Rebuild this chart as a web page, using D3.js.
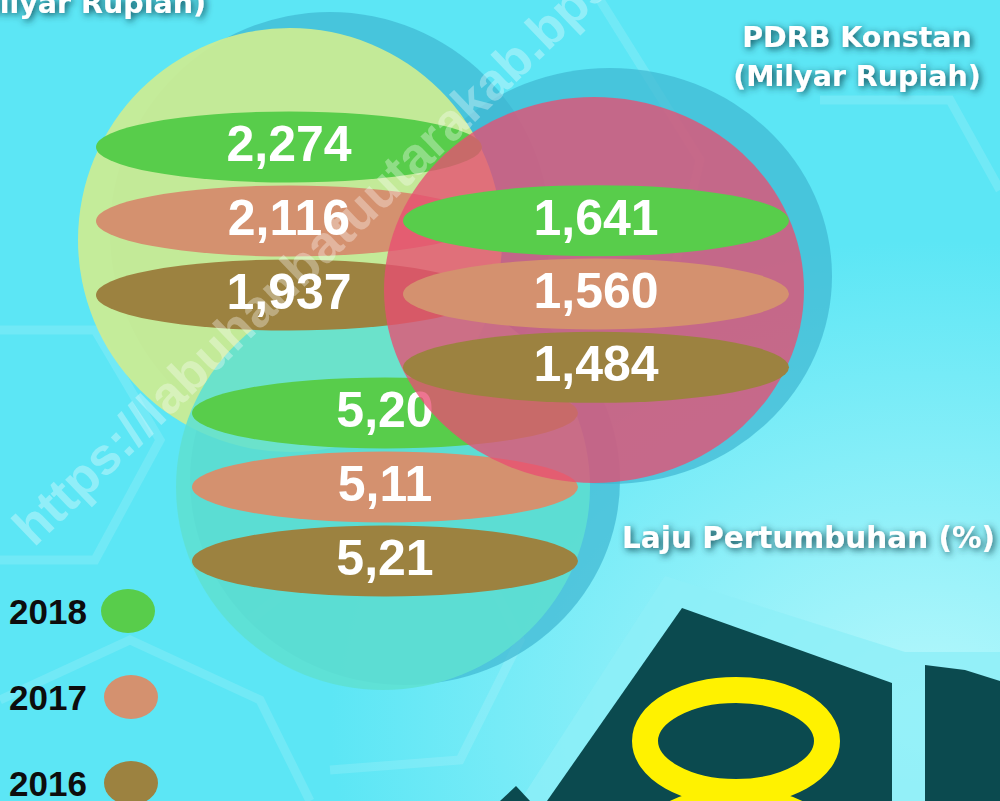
<!DOCTYPE html>
<html><head><meta charset="utf-8">
<script src="https://cdn.jsdelivr.net/npm/d3@7"></script>
<style>html,body{margin:0;padding:0;overflow:hidden;background:#5ce6f5}</style>
</head><body>
<script>
// ---- data ----
const years = ["2018", "2017", "2016"];
const pdrbBerlaku = [2274, 2116, 1937];
const pdrbKonstan = [1641, 1560, 1484];
const lajuPertumbuhan = [5.20, 5.11, 5.21];
const yearColors = ["#58cd4b", "#d4916f", "#9c8240"];
const titleBerlaku = "(Milyar Rupiah)";
const titleKonstan = ["PDRB Konstan", "(Milyar Rupiah)"];
const titleLaju = "Laju Pertumbuhan (%)";
const watermark = "https://labuhanbatuutarakab.bps.go.id";

const W = 1000, H = 801;
const svg = d3.select("body").append("svg").attr("width", W).attr("height", H);
const defs = svg.append("defs");

const bg = defs.append("radialGradient").attr("id", "bg")
  .attr("cx", 0.93).attr("cy", 0.9).attr("r", 0.6);
bg.append("stop").attr("offset", "0%").attr("stop-color", "#b8f8fc");
bg.append("stop").attr("offset", "100%").attr("stop-color", "#5ce6f5");

const f = defs.append("filter").attr("id", "glow").attr("x", "-20%").attr("y", "-50%").attr("width", "140%").attr("height", "200%");
f.append("feDropShadow").attr("dx", 2).attr("dy", 2).attr("stdDeviation", 3.5)
  .attr("flood-color", "#06303c").attr("flood-opacity", 0.85);

svg.append("rect").attr("width", W).attr("height", H).attr("fill", "url(#bg)");

// faint background hexagon lines
const hex = svg.append("g").attr("fill", "none").attr("stroke", "#ffffff").attr("stroke-opacity", 0.13).attr("stroke-width", 9);
[[[0,330],[95,330],[160,440],[95,560],[0,560]],
 [[250,620],[350,540],[470,540],[520,640],[460,760],[330,770]],
 [[820,100],[950,100],[1000,190]],
 [[600,0],[700,160],[660,330]],
 [[0,700],[130,640],[260,700],[310,801]]].forEach(p =>
  hex.append("path").attr("d", d3.line()(p)));

// bottom-right decoration
svg.append("path").attr("d", d3.line()([[665,576],[905,652],[1000,652],[1000,801],[520,801]])+"Z")
  .attr("fill", "#8defF7").attr("opacity", 0.8);
svg.append("path").attr("d", d3.line()([[682,608],[892,683],[892,801],[547,801]])+"Z").attr("fill", "#0b4a4f");
svg.append("path").attr("d", d3.line()([[925,665],[965,670],[1000,681],[1000,801],[925,801]])+"Z").attr("fill", "#0b4a4f");
svg.append("path").attr("d", d3.line()([[500,801],[516,786],[530,801]])+"Z").attr("fill", "#0b4a4f");
svg.append("ellipse").attr("cx", 736).attr("cy", 741).attr("rx", 91).attr("ry", 51)
  .attr("fill", "none").attr("stroke", "#fff200").attr("stroke-width", 26);
svg.append("ellipse").attr("cx", 736).attr("cy", 880).attr("rx", 112).attr("ry", 80)
  .attr("fill", "none").attr("stroke", "#fff200").attr("stroke-width", 26);

// layout of the three bubbles
const bubbles = {
  berlaku: {cx: 290, cy: 240, rx: 212, ry: 212, fill: "#cbec94", op: 0.94, sdx: 40, sdy: -8, srx: 220, sry: 220, rows: [110, 332], ex: 289},
  laju:    {cx: 383, cy: 487, rx: 207, ry: 203, fill: "#5fe0d1", op: 0.88, sdx: 22, sdy: -7, srx: 215, sry: 205, rows: [376, 598], ex: 385},
  konstan: {cx: 594, cy: 290, rx: 210, ry: 193, fill: "#e84e72", op: 0.78, sdx: 16, sdy: -14, srx: 222, sry: 208, rows: [184, 404], ex: 596}
};

// shadows
Object.values(bubbles).forEach(b => {
  svg.append("ellipse").attr("cx", b.cx + b.sdx).attr("cy", b.cy + b.sdy)
    .attr("rx", b.srx).attr("ry", b.sry).attr("fill", "#3fb6d2").attr("opacity", 0.7);
});

function bubble(b) {
  svg.append("ellipse").attr("cx", b.cx).attr("cy", b.cy).attr("rx", b.rx).attr("ry", b.ry)
    .attr("fill", b.fill).attr("opacity", b.op);
}
const fmtThousands = d3.format(",");
const idLocale = d3.formatLocale({decimal: ",", thousands: ".", grouping: [3], currency: ["Rp", ""]});
const fmtPct = idLocale.format(".2f");

function bars(b, values, fmt) {
  const y = d3.scaleBand().domain(years).range(b.rows);
  const g = svg.append("g");
  g.selectAll("ellipse").data(values).join("ellipse")
    .attr("cx", b.ex).attr("cy", (d, i) => y(years[i]) + y.bandwidth() / 2)
    .attr("rx", 193).attr("ry", 35.5).attr("fill", (d, i) => yearColors[i]);
  g.selectAll("text").data(values).join("text")
    .attr("x", b.ex).attr("y", (d, i) => y(years[i]) + y.bandwidth() / 2 - 3)
    .attr("text-anchor", "middle").attr("dominant-baseline", "central")
    .attr("font-family", "'Liberation Sans Narrow', 'Liberation Sans', sans-serif")
    .attr("font-weight", "bold").attr("font-size", 50).attr("fill", "#ffffff")
    .text(d => fmt(d));
}

bubble(bubbles.berlaku);
bubble(bubbles.laju);
bars(bubbles.berlaku, pdrbBerlaku, fmtThousands);
bars(bubbles.laju, lajuPertumbuhan, fmtPct);
bubble(bubbles.konstan);
bars(bubbles.konstan, pdrbKonstan, fmtThousands);

// watermark
svg.append("text").attr("transform", "translate(34,548) rotate(-44)")
  .attr("font-family", "'Liberation Sans', Arial, sans-serif").attr("font-weight", "bold")
  .attr("font-size", 52).attr("fill", "#ffffff").attr("fill-opacity", 0.33).text(watermark);

// titles
const tf = "'DejaVu Sans', Verdana, sans-serif";
function title(x, y, txt, size, anchor) {
  svg.append("text").attr("x", x).attr("y", y).attr("text-anchor", anchor)
    .attr("font-family", tf).attr("font-weight", "bold").attr("font-size", size)
    .attr("fill", "#ffffff").attr("filter", "url(#glow)").text(txt);
}
title(206, 13, titleBerlaku, 28.5, "end");
title(857, 47, titleKonstan[0], 28.5, "middle");
title(857, 86, titleKonstan[1], 28.5, "middle");
title(995, 548, titleLaju, 29.5, "end");

// legend
const ly = d3.scalePoint().domain(years).range([611, 783]);
const lg = svg.append("g");
lg.selectAll("ellipse").data(years).join("ellipse")
  .attr("cx", (d, i) => i === 0 ? 128 : 131).attr("cy", d => ly(d))
  .attr("rx", 27).attr("ry", 22).attr("fill", (d, i) => yearColors[i]);
lg.selectAll("text").data(years).join("text")
  .attr("x", 9).attr("y", d => ly(d) + 13)
  .attr("font-family", "'Liberation Sans', Arial, sans-serif").attr("font-weight", "bold")
  .attr("font-size", 35).attr("fill", "#0d0d0d").text(d => d);
</script>
</body></html>
